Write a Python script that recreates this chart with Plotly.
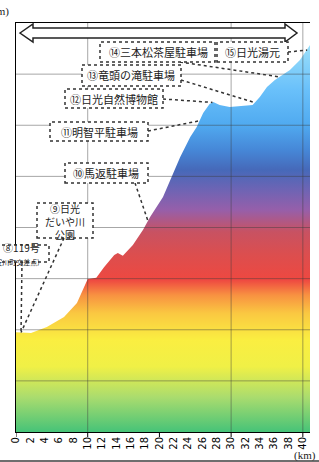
import numpy as np
import plotly.graph_objects as go

# ---------------- data ----------------
DIST_KM = [0, 2.1, 4.3, 6.7, 8.5, 10.0, 11.2, 12.3, 13.7, 14.2, 14.9, 16.3, 17.7, 18.7,
           20.5, 21.7, 22.9, 24.3, 25.2, 26.1, 27.0, 27.5, 28.4, 29.8, 32.2, 33.0, 34.0,
           35.0, 36.1, 36.8, 38.2, 39.6, 40.6, 41.0]
ELEV_M = [590, 587, 611, 650, 705, 799, 803, 845, 892, 900, 889, 932, 990, 1041,
          1119, 1198, 1276, 1354, 1393, 1448, 1483, 1491, 1479, 1471, 1479, 1479, 1511,
          1550, 1577, 1589, 1616, 1655, 1694, 1714]

X_TICKS = list(range(0, 41, 2))
X_TICK_LABELS = [str(v) for v in X_TICKS]
X_MAJOR = [0, 10, 20, 30, 40]
X_GRID = [10, 30, 40]
Y_GRID = [400, 600, 800, 1000, 1200, 1400, 1600]

POI_NAMES = ["⑧", "⑨", "⑩", "⑪", "⑫", "⑬", "⑭", "⑮"]
POI_KM = [0.7, 0.7, 18.4, 25.6, 27.4, 33.3, 36.8, 40.6]

X_RANGE = [0, 41]
Y_RANGE = [200, 1800]

# ---------------- layout helpers ----------------
W, H = 319, 462
L, R, T, B = 16, 310, 23, 432


def pp(px, py):
    return (px - L) / (R - L), (B - py) / (B - T)


def dp(km, m):
    return (km - X_RANGE[0]) / (X_RANGE[1] - X_RANGE[0]), (m - Y_RANGE[0]) / (Y_RANGE[1] - Y_RANGE[0])


GRADIENT = [
    [0.000, "rgb(70,195,120)"],
    [0.085, "rgb(170,220,110)"],
    [0.160, "rgb(240,240,70)"],
    [0.225, "rgb(250,238,65)"],
    [0.290, "rgb(250,200,65)"],
    [0.335, "rgb(248,145,65)"],
    [0.372, "rgb(238,72,65)"],
    [0.433, "rgb(220,78,78)"],
    [0.489, "rgb(200,82,98)"],
    [0.543, "rgb(150,95,170)"],
    [0.592, "rgb(110,100,180)"],
    [0.641, "rgb(70,105,185)"],
    [0.689, "rgb(70,135,215)"],
    [0.751, "rgb(80,170,240)"],
    [0.836, "rgb(105,192,250)"],
    [0.934, "rgb(150,220,250)"],
    [1.000, "rgb(170,230,250)"],
]

fig = go.Figure()
fig.add_trace(go.Scatter(
    x=DIST_KM, y=ELEV_M, mode="lines", line=dict(width=0),
    fill="tozeroy",
    fillgradient=dict(type="vertical", colorscale=GRADIENT, start=Y_RANGE[0], stop=Y_RANGE[1]),
    hoverinfo="skip", showlegend=False,
))

shapes = []
GRID_COLOR = "rgba(60,60,60,0.45)"
for v in X_GRID:
    shapes.append(dict(type="line", xref="x", yref="paper", x0=v, x1=v, y0=0, y1=1,
                       line=dict(color=GRID_COLOR, width=1), layer="above"))
for v in Y_GRID:
    shapes.append(dict(type="line", xref="paper", yref="y", x0=0, x1=1, y0=v, y1=v,
                       line=dict(color=GRID_COLOR, width=1), layer="above"))
# major tick marks
for v in X_MAJOR:
    shapes.append(dict(type="line", xref="x", yref="paper", x0=v, x1=v, y0=0, y1=-5 / (B - T),
                       line=dict(color="black", width=1), layer="above"))

# double arrow
arrow_px = [(20, 33), (33, 24), (33, 28), (285, 28), (285, 24), (297, 33), (285, 42),
            (285, 38), (33, 38), (33, 42)]
pts = [pp(x, y) for x, y in arrow_px]
path = "M " + " L ".join(f"{x:.5f},{y:.5f}" for x, y in pts) + " Z"
shapes.append(dict(type="path", xref="paper", yref="paper", path=path,
                   fillcolor="white", line=dict(color="#222", width=1.5), layer="above"))

# label boxes (pixel layout)
BOXES = {
    "⑭": (100, 42, 215, 62),
    "⑮": (217, 42, 288, 62),
    "⑬": (82, 65, 181, 86),
    "⑫": (65, 89, 163, 108),
    "⑪": (50, 122, 148, 141),
    "⑩": (65, 163, 148, 183),
    "⑨": (37, 203, 93, 238),
    "⑧": (-40, 245, 49, 262),
}
POINTER_START = {
    "⑧": (22, 262), "⑨": (64, 238), "⑩": (135, 183), "⑪": (148, 131),
    "⑫": (163, 99), "⑬": (181, 80), "⑭": (180, 62), "⑮": (288, 52),
}
DOT = dict(color="#333", width=1.5, dash="dot")

for name, km in zip(POI_NAMES, POI_KM):
    m = float(np.interp(km, DIST_KM, ELEV_M))
    x1, y1 = dp(km, m)
    x0, y0 = pp(*POINTER_START[name])
    shapes.append(dict(type="line", xref="paper", yref="paper", x0=x0, y0=y0, x1=x1, y1=y1,
                       line=DOT, layer="above"))

for name, (bx0, by0, bx1, by1) in BOXES.items():
    a = pp(bx0, by0)
    b = pp(bx1, by1)
    shapes.append(dict(type="rect", xref="paper", yref="paper", x0=a[0], y0=b[1], x1=b[0], y1=a[1],
                       fillcolor="white", line=DOT, layer="above"))

# bottom frame line of the picture
shapes.append(dict(type="line", xref="paper", yref="paper", x0=-L / (R - L), x1=(W - L) / (R - L),
                   y0=(B - 461) / (B - T), y1=(B - 461) / (B - T),
                   line=dict(color="rgb(110,110,110)", width=2)))

JP = "Noto Sans CJK JP"
annotations = []
LABELS = [
    ("⑭三本松茶屋駐車場", 158, 52, 11, "center"),
    ("⑮日光湯元", 252, 52, 11, "center"),
    ("⑬竜頭の滝駐車場", 131, 75.5, 11, "center"),
    ("⑫日光自然博物館", 114, 98.5, 11, "center"),
    ("⑪明智平駐車場", 99, 131.5, 11, "center"),
    ("⑩馬返駐車場", 106, 173, 11, "center"),
    ("⑨日光<br>だいや川<br>公園", 65, 221, 10, "center"),
    ("⑧119号<br><span style='font-size:7px'>(安川町交差点)</span>", 42, 253.5, 10, "right"),
]
for text, px, py, size, anchor in LABELS:
    x, y = pp(px, py)
    annotations.append(dict(text=text, x=x, y=y, xref="paper", yref="paper", showarrow=False,
                            xanchor=anchor, yanchor="middle", align=anchor,
                            font=dict(family=JP, size=size, color="#222")))

x, y = pp(11, 11)
annotations.append(dict(text="(m)", x=x, y=y, xref="paper", yref="paper", showarrow=False,
                        xanchor="right", yanchor="middle",
                        font=dict(family="Liberation Serif", size=11, color="#222")))
x, y = pp(318, 455)
annotations.append(dict(text="(km)", x=x, y=y, xref="paper", yref="paper", showarrow=False,
                        xanchor="right", yanchor="middle",
                        font=dict(family="Liberation Serif", size=11, color="#222")))

fig.update_layout(
    width=W, height=H,
    margin=dict(l=L, r=W - R, t=T, b=H - B, pad=0, autoexpand=False),
    paper_bgcolor="white", plot_bgcolor="white",
    showlegend=False,
    shapes=shapes,
    annotations=annotations,
    xaxis=dict(range=X_RANGE, tickmode="array", tickvals=X_TICKS, ticktext=X_TICK_LABELS,
               tickangle=-90, ticks="", showgrid=False, zeroline=False, automargin=False,
               showline=True, linecolor="black", linewidth=1, mirror=True,
               tickfont=dict(family="DejaVu Sans", size=10, color="black")),
    yaxis=dict(range=Y_RANGE, showticklabels=False, ticks="", showgrid=False, zeroline=False,
               automargin=False, showline=True, linecolor="black", linewidth=1),
)

fig.write_html("out.html", config={"displayModeBar": False},
               post_script="document.body.style.margin='0px';document.body.style.overflow='hidden';")
